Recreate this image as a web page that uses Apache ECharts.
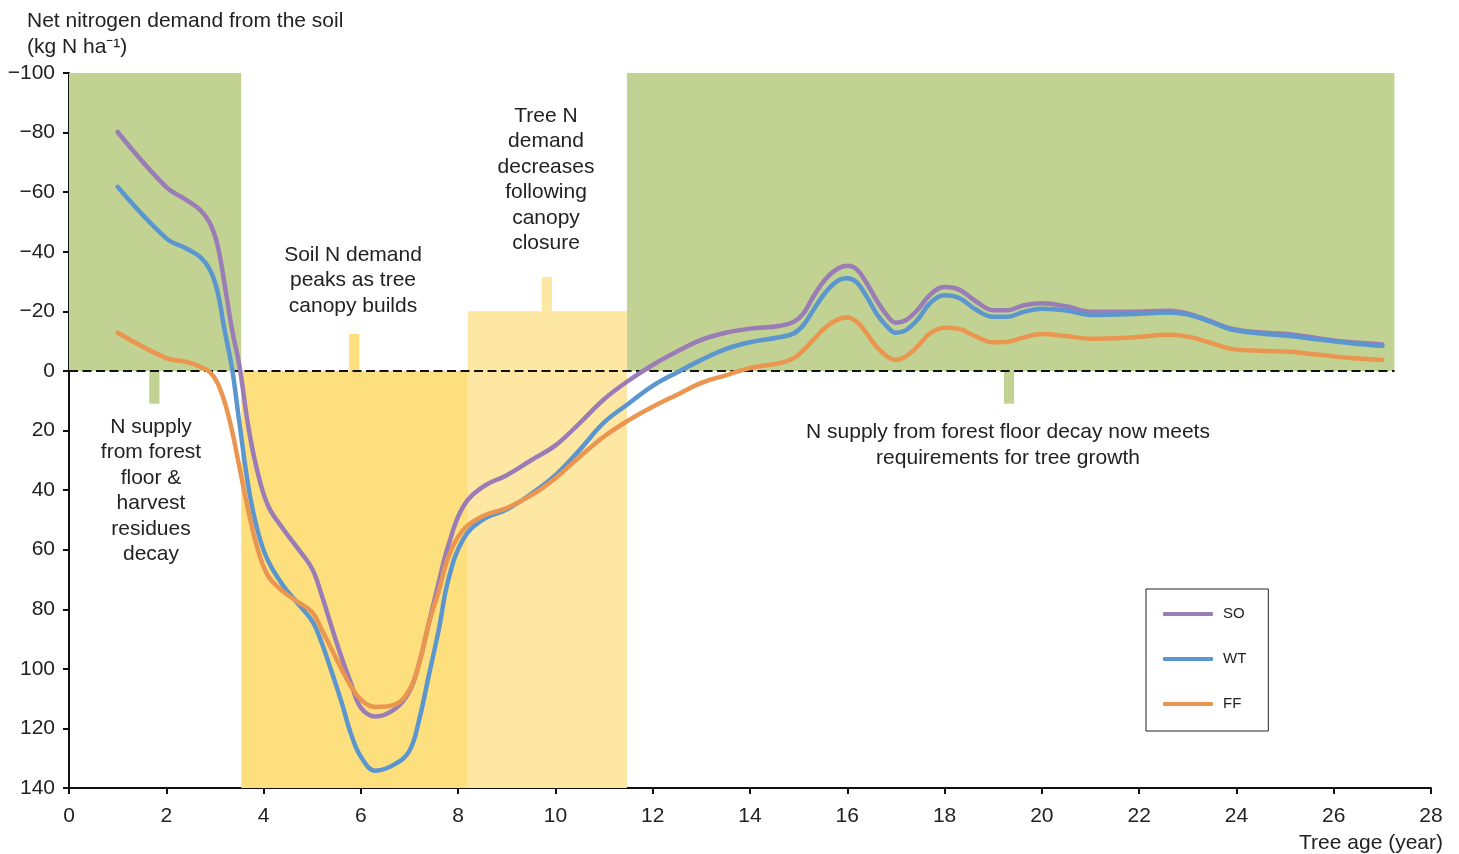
<!DOCTYPE html>
<html>
<head>
<meta charset="utf-8">
<script src="https://cdn.jsdelivr.net/npm/echarts@6/dist/echarts.min.js"></script>
<style>html,body{margin:0;padding:0;background:#fff}#c{width:1459px;height:854px}</style>
</head>
<body>
<div id="c"></div>
<script>
// Tree age (year)
const ages = [1, 2, 2.4, 2.7, 2.9, 3.05, 3.2, 3.35, 3.5, 3.7, 3.9, 4.1, 4.4, 4.7, 5.0, 5.2, 5.4, 5.6, 5.8, 6.0, 6.3, 6.7, 7.0, 7.2, 7.4, 7.6, 7.8, 8.1, 8.5, 9.0, 9.5, 10, 10.5, 11, 11.5, 12, 12.5, 13, 13.5, 14, 14.6, 14.9, 15.1, 15.3, 15.55, 15.8, 16, 16.2, 16.4, 16.6, 16.8, 17, 17.2, 17.45, 17.7, 18, 18.3, 18.65, 19, 19.3, 19.6, 20, 20.5, 21, 21.9, 22.6, 23, 23.4, 23.9, 24.6, 25.1, 25.7, 26.35, 27];
// Net nitrogen demand from the soil (kg N ha-1); negative = demand
const SO = [-80.2, -61.7, -57.5, -54, -49.5, -42.5, -29, -14, -2, 20, 35.5, 45.5, 53, 59.5, 66.5, 75.5, 86, 96, 105, 113, 116, 113.5, 107.5, 98, 84.5, 71, 58.5, 45.6, 39, 35, 30, 25, 17.5, 9.5, 3.3, -2, -6.5, -10.4, -12.8, -14.2, -15.1, -16.5, -19.3, -24.9, -30.8, -34.3, -35.3, -34, -29.4, -23.8, -19, -16.2, -17, -20.6, -25.5, -28.2, -27.3, -23.3, -20.4, -20.4, -21.9, -22.7, -21.7, -19.9, -19.9, -20.2, -19.3, -17.1, -14.2, -12.8, -12.3, -10.9, -9.6, -8.9];
const WT = [-61.8, -44.5, -41.2, -38.2, -33.9, -26.8, -13.5, -1, 17, 40, 55, 64, 72, 78, 84, 91.5, 101, 111, 122, 129.5, 134.2, 132, 127.5, 117, 102, 87, 70, 56.6, 50, 46.5, 41.3, 35, 26.5, 17.3, 11, 5, 0.5, -3.7, -7.3, -9.6, -11.3, -12.6, -15.4, -20.4, -26.3, -30.2, -31.1, -29.6, -24.9, -19.3, -15.2, -12.8, -13.6, -17.3, -22.7, -25.4, -24.5, -20.5, -18.2, -18.2, -19.7, -20.9, -20.3, -18.8, -19.1, -19.6, -18.9, -16.9, -13.9, -12.4, -11.7, -10.5, -9.3, -8.4];
const FF = [-12.8, -4.3, -3.1, -1.4, 0.5, 4, 10.5, 20, 32, 48, 61, 69, 74, 77.5, 81, 87, 93.5, 100, 106, 110.3, 112.8, 112, 107, 98, 84.5, 74, 62.5, 53.5, 48.8, 46, 41.8, 36, 28.8, 22, 16.6, 12, 8, 4, 1.5, -1, -2.6, -4.3, -7, -10.4, -14.6, -17.2, -17.9, -16.4, -12.6, -8.1, -5.1, -3.7, -4.8, -8.3, -12.6, -14.5, -14.1, -11.5, -9.6, -9.8, -11.1, -12.4, -11.7, -10.8, -11.3, -12.1, -11.5, -9.8, -7.4, -6.7, -6.4, -5.4, -4.3, -3.7];
const seriesNames = ['SO', 'WT', 'FF'];
// zones: [xStart, xEnd, yStart, yEnd] in data units
const greenZones = [[0, 3.54, -100, 0], [11.47, 27.25, -100, 0], [1.65, 1.86, 0, 11], [19.22, 19.43, 0, 11]];
const darkYellowZones = [[3.54, 8.2, 0, 140], [5.76, 5.97, -12.4, 0]];
const lightYellowZones = [[8.2, 11.47, -20, 140], [9.72, 9.93, -31.5, -20]];
const zeroLine = [[0, 0], [27.25, 0]];
const xTicks = {min: 0, max: 28, step: 2};
const yTicks = {min: -100, max: 140, step: 20};

const FONT = 'Liberation Sans, Arial, sans-serif';
const TXT = '#222';
const FS = 21;

function zoneSeries(data, color) {
  return {
    type: 'custom', silent: true, z: 1,
    data: data,
    encode: {x: [0, 1], y: [2, 3]},
    renderItem: function (params, api) {
      const p0 = api.coord([api.value(0), api.value(2)]);
      const p1 = api.coord([api.value(1), api.value(3)]);
      return {
        type: 'rect',
        shape: {x: Math.min(p0[0], p1[0]), y: Math.min(p0[1], p1[1]),
                width: Math.abs(p1[0] - p0[0]), height: Math.abs(p1[1] - p0[1])},
        style: {fill: color}
      };
    }
  };
}

const colors = {SO: '#9a7cb6', WT: '#5b96cf', FF: '#ea9650'};
const values = {SO: SO, WT: WT, FF: FF};

const lineSeries = seriesNames.map(function (n, k) {
  return {
    name: n, type: 'line', smooth: 0.4, showSymbol: false, symbol: 'none',
    z: 3 + k,
    color: colors[n],
    lineStyle: {width: 4.5, color: colors[n], cap: 'round', join: 'round'},
    data: ages.map(function (a, i) { return [a, values[n][i]]; })
  };
});

const chart = echarts.init(document.getElementById('c'), null, {renderer: 'canvas'});
chart.setOption({
  animation: false,
  backgroundColor: '#fff',
  title: {
    text: 'Net nitrogen demand from the soil\n(kg N ha\u207B\u00B9)',
    left: 22, top: 3,
    textStyle: {fontFamily: FONT, fontSize: FS, fontWeight: 'normal', color: TXT, lineHeight: 26}
  },
  grid: {left: 69, right: 28, top: 73, bottom: 65},
  xAxis: {
    type: 'value', min: xTicks.min, max: xTicks.max, interval: xTicks.step,
    name: 'Tree age (year)', nameLocation: 'end', nameGap: 12,
    nameTextStyle: {fontFamily: FONT, fontSize: FS, color: TXT, align: 'right', verticalAlign: 'top', padding: [45, 0, 0, 0]},
    axisLine: {onZero: false, lineStyle: {color: '#111', width: 2}},
    axisTick: {show: true, inside: false, length: 6, lineStyle: {color: '#111', width: 2}},
    axisLabel: {fontFamily: FONT, fontSize: FS, color: TXT, margin: 18},
    splitLine: {show: false}
  },
  yAxis: {
    type: 'value', min: yTicks.min, max: yTicks.max, interval: yTicks.step, inverse: true,
    axisLine: {show: true, onZero: false, lineStyle: {color: '#111', width: 2}},
    axisTick: {show: true, inside: false, length: 6, lineStyle: {color: '#111', width: 2}},
    axisLabel: {fontFamily: FONT, fontSize: FS, color: TXT, margin: 14,
      formatter: function (v) { return v < 0 ? '\u2212' + Math.abs(v) : String(v); }},
    splitLine: {show: false}
  },
  legend: {
    data: seriesNames, orient: 'vertical', left: 1146, top: 589,
    icon: 'roundRect', itemWidth: 50, itemHeight: 4, itemGap: 29,
    padding: [17, 22, 19, 17],
    borderColor: '#222', borderWidth: 1, backgroundColor: '#fff',
    textStyle: {fontFamily: FONT, fontSize: 15, color: TXT, lineHeight: 16, padding: [0, 0, 0, 5]}
  },
  series: [
    zoneSeries(greenZones, '#c2d293'),
    zoneSeries(darkYellowZones, '#fedf7e'),
    zoneSeries(lightYellowZones, '#fee7a3'),
    {
      type: 'line', name: 'zero', z: 2, silent: true, symbol: 'none',
      data: zeroLine,
      lineStyle: {color: '#111', width: 2, type: [9, 4.5]}
    }
  ].concat(lineSeries),
  graphic: [
    {type: 'text', x: 151, y: 414, z: 10, style: {text: 'N supply\nfrom forest\nfloor &\nharvest\nresidues\ndecay', textAlign: 'center', textVerticalAlign: 'top', font: FS + 'px ' + FONT, fill: TXT, lineHeight: 25.5}},
    {type: 'text', x: 353, y: 242, z: 10, style: {text: 'Soil N demand\npeaks as tree\ncanopy builds', textAlign: 'center', textVerticalAlign: 'top', font: FS + 'px ' + FONT, fill: TXT, lineHeight: 25.5}},
    {type: 'text', x: 546, y: 103, z: 10, style: {text: 'Tree N\ndemand\ndecreases\nfollowing\ncanopy\nclosure', textAlign: 'center', textVerticalAlign: 'top', font: FS + 'px ' + FONT, fill: TXT, lineHeight: 25.5}},
    {type: 'text', x: 1008, y: 419, z: 10, style: {text: 'N supply from forest floor decay now meets\nrequirements for tree growth', textAlign: 'center', textVerticalAlign: 'top', font: FS + 'px ' + FONT, fill: TXT, lineHeight: 26}}
  ]
});
</script>
</body>
</html>
